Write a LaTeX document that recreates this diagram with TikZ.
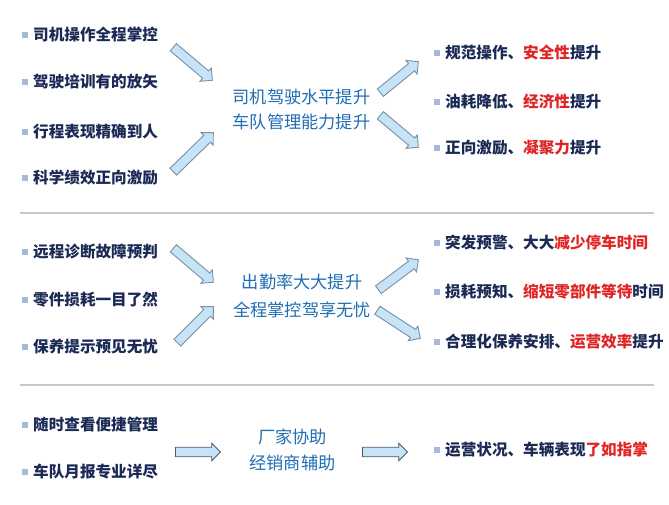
\documentclass[tikz,border=0pt]{standalone}
\usepackage{fontspec}
\newfontfamily\cjk{Noto Sans CJK SC}
\usetikzlibrary{shapes.arrows,calc}
\definecolor{navy}{HTML}{1A2A55}
\definecolor{hired}{HTML}{E02424}
\definecolor{midblue}{HTML}{1F6EB4}
\definecolor{bulc}{HTML}{A8B8D8}
\definecolor{arrowfill}{HTML}{C6E4F5}
\definecolor{arrowline}{HTML}{7890A8}
\definecolor{arrowdark}{HTML}{4A5A6E}
\definecolor{sepc}{HTML}{C8C8C8}
\tikzset{
  itm/.style={anchor=west, inner sep=0pt, text=navy, font=\cjk\bfseries\fontsize{15.6}{18}\selectfont},
  ctr/.style={inner sep=0pt, text=midblue, font=\cjk\fontsize{17.2}{20}\selectfont},
  bul/.style={fill=bulc, minimum size=6.5pt, inner sep=0pt},
  fatarrow/.style={single arrow, draw=arrowline, fill=arrowfill, line width=0.9pt,
    single arrow head extend=4pt, single arrow head indent=0pt,
    inner xsep=0pt, inner ysep=4.3pt, anchor=tail},
  sepline/.style={draw=sepc, line width=1.3pt}
}
\newcommand\fatarr[3][]{%
  \path let \p1=(#2), \p2=(#3), \n1={atan2(\y2-\y1,\x2-\x1)}, \n2={veclen(\x2-\x1,\y2-\y1)} in
    node[fatarrow, minimum height=\n2, rotate=\n1, #1] at (#2) {};}
\newcommand\itemrow[4]{%
  \node[bul] (#1b) at (#2-8,#3) {};
  \node[itm] (#1) at (#2,#3) {#4};}
\begin{document}
\begin{tikzpicture}[x=1pt,y=-1pt]
\useasboundingbox (0,0) rectangle (669,505);
\fill[white] (0,0) rectangle (669,505);
% separators
\coordinate (s1l) at (20,213); \coordinate (s1r) at (654,213);
\coordinate (s2l) at (20,385); \coordinate (s2r) at (654,385);
\draw[sepline] (s1l) -- (s1r);
\draw[sepline] (s2l) -- (s2r);
% section 1
\itemrow{l11}{33}{35}{司机操作全程掌控}
\itemrow{l12}{33}{82}{驾驶培训有的放矢}
\itemrow{l13}{33}{132}{行程表现精确到人}
\itemrow{l14}{33}{178}{科学绩效正向激励}
\node[ctr] (c11) at (301.5,97) {司机驾驶水平提升};
\node[ctr] (c12) at (301.5,122) {车队管理能力提升};
\itemrow{r11}{445}{53}{规范操作、\textcolor{hired}{安全性}提升}
\itemrow{r12}{445}{102}{油耗降低、\textcolor{hired}{经济性}提升}
\itemrow{r13}{445}{148}{正向激励、\textcolor{hired}{凝聚力}提升}
\coordinate (a1s) at (173,47);  \coordinate (a1e) at (212,80);
\coordinate (a2s) at (173,172); \coordinate (a2e) at (213,133);
\coordinate (a3s) at (380,93);  \coordinate (a3e) at (418,62);
\coordinate (a4s) at (380,115); \coordinate (a4e) at (418,147);
\fatarr{a1s}{a1e}
\fatarr{a2s}{a2e}
\fatarr{a3s}{a3e}
\fatarr{a4s}{a4e}
% section 2
\itemrow{l21}{33}{252}{远程诊断故障预判}
\itemrow{l22}{33}{300}{零件损耗一目了然}
\itemrow{l23}{33}{347}{保养提示预见无忧}
\node[ctr] (c21) at (302,282) {出勤率大大提升};
\node[ctr] (c22) at (302,310) {全程掌控驾享无忧};
\itemrow{r21}{445}{243}{突发预警、大大\textcolor{hired}{减少停车时间}}
\itemrow{r22}{445}{292}{损耗预知、\textcolor{hired}{缩短零部件等待}时间}
\itemrow{r23}{445}{342}{合理化保养安排、\textcolor{hired}{运营效率}提升}
\coordinate (b1s) at (173,248); \coordinate (b1e) at (213,282);
\coordinate (b2s) at (177,343); \coordinate (b2e) at (213,307);
\coordinate (b3s) at (378,290); \coordinate (b3e) at (418,260);
\coordinate (b4s) at (377,310); \coordinate (b4e) at (420,338);
\fatarr{b1s}{b1e}
\fatarr{b2s}{b2e}
\fatarr{b3s}{b3e}
\fatarr{b4s}{b4e}
% section 3
\itemrow{l31}{33}{425}{随时查看便捷管理}
\itemrow{l32}{33}{472}{车队月报专业详尽}
\node[ctr] (c31) at (292.5,437) {厂家协助};
\node[ctr] (c32) at (292.5,463) {经销商辅助};
\itemrow{r31}{445}{450}{运营状况、车辆表现\textcolor{hired}{了如指掌}}
\coordinate (d1s) at (175,452); \coordinate (d1e) at (220,452);
\coordinate (d2s) at (362,452); \coordinate (d2e) at (407,452);
\fatarr[draw=arrowdark]{d1s}{d1e}
\fatarr[draw=arrowdark]{d2s}{d2e}
\end{tikzpicture}
\end{document}
